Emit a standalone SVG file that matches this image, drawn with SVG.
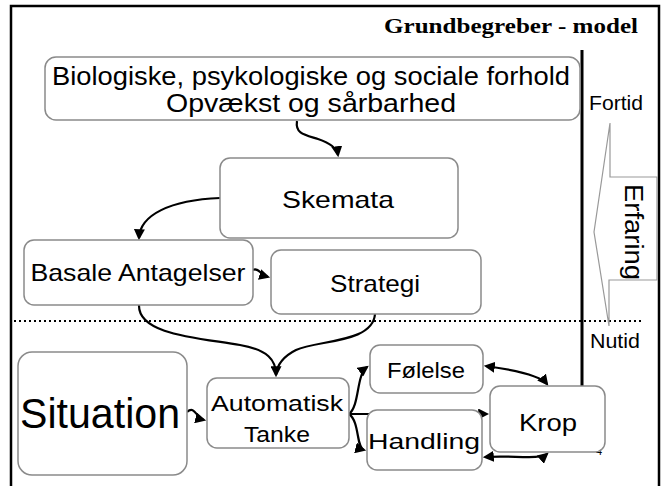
<svg xmlns="http://www.w3.org/2000/svg" width="664" height="486" viewBox="0 0 664 486">
<defs>
<style>
.box{fill:#fff;stroke:#8a8a8a;stroke-width:1.5}
.t{font-family:"Liberation Sans",Arial,sans-serif;fill:#000;text-anchor:middle}
.c{fill:none;stroke:#000;stroke-width:2.2}
</style>
<marker id="ah" viewBox="0 0 10 10" refX="8" refY="5" markerWidth="5" markerHeight="5" orient="auto-start-reverse" markerUnits="strokeWidth">
<path d="M0,0 L10,5 L0,10 Z" fill="#000"/>
</marker>
</defs>
<rect x="0" y="0" width="664" height="486" fill="#fff"/>
<path d="M11,486 V6 H659 V486" fill="none" stroke="#000" stroke-width="2.5"/>
<text x="638" y="33" font-family="'Liberation Serif',serif" font-weight="bold" font-size="22" text-anchor="end" textLength="254" lengthAdjust="spacingAndGlyphs">Grundbegreber - model</text>
<line x1="582" y1="50" x2="582" y2="386" stroke="#000" stroke-width="3"/>
<line x1="14" y1="321" x2="643" y2="321" stroke="#000" stroke-width="2" stroke-dasharray="2,3"/>
<path d="M610,123 L610,177 L657,177 L657,280 L609,280 L609,326 L594,232 Z" fill="#fff" stroke="#999" stroke-width="1.2"/>
<text class="t" font-size="25" transform="translate(625,232) rotate(90)" textLength="96" lengthAdjust="spacingAndGlyphs">Erfaring</text>
<text class="t" x="616" y="110" font-size="20" textLength="54" lengthAdjust="spacingAndGlyphs">Fortid</text>
<text class="t" x="615" y="348" font-size="20" textLength="50" lengthAdjust="spacingAndGlyphs">Nutid</text>
<text class="t" x="599" y="455" font-size="11">4</text>

<g id="connectors">
<path class="c" d="M297,121 C295,134 305,135 318,139 C330,143 337,148 338,155" marker-end="url(#ah)"/>
<path class="c" d="M220,198 C170,200 140,215 139,238" marker-end="url(#ah)"/>
<path class="c" d="M253,270 C258,267 261,275 268,277" marker-end="url(#ah)"/>
<path class="c" d="M139,305 C138,335 200,338 240,345 C268,350 276,360 276,375" marker-end="url(#ah)"/>
<path class="c" d="M375,314 C373,343 318,340 296,350 C282,357 277,365 276,375"/>
<path class="c" d="M187,412 C195,405 196,418 204,420" marker-end="url(#ah)"/>
<path class="c" d="M349,414 C360,405 356,375 367,367" marker-end="url(#ah)"/>
<path class="c" d="M349,414 L487,414" marker-end="url(#ah)"/>
<path class="c" d="M349,414 C360,422 356,448 364,450" marker-end="url(#ah)"/>
<path class="c" d="M486,366 C515,370 540,375 547,384" marker-start="url(#ah)" marker-end="url(#ah)"/>
<path class="c" d="M485,457 C510,455 540,460 547,454" marker-start="url(#ah)" marker-end="url(#ah)"/>
</g>

<g id="bio">
<rect class="box" x="45" y="57" width="535" height="63" rx="11"/>
<text class="t" x="311" y="85" font-size="25" textLength="518" lengthAdjust="spacingAndGlyphs">Biologiske, psykologiske og sociale forhold</text>
<text class="t" x="311" y="112" font-size="25" textLength="290" lengthAdjust="spacingAndGlyphs">Opvækst og sårbarhed</text>
</g>
<g id="skemata">
<rect class="box" x="220" y="158" width="238" height="80" rx="10"/>
<text class="t" x="338" y="208" font-size="24" textLength="112" lengthAdjust="spacingAndGlyphs">Skemata</text>
</g>
<g id="basale">
<rect class="box" x="24" y="240" width="229" height="65" rx="10"/>
<text class="t" x="138" y="281" font-size="24" textLength="215" lengthAdjust="spacingAndGlyphs">Basale Antagelser</text>
</g>
<g id="strategi">
<rect class="box" x="271" y="250" width="210" height="64" rx="10"/>
<text class="t" x="375" y="292" font-size="24" textLength="90" lengthAdjust="spacingAndGlyphs">Strategi</text>
</g>
<g id="situation">
<rect class="box" x="18" y="352" width="169" height="123" rx="14"/>
<text class="t" x="100" y="428" font-size="43" textLength="160" lengthAdjust="spacingAndGlyphs">Situation</text>
</g>
<g id="automatisk">
<rect class="box" x="207" y="378" width="142" height="70" rx="10"/>
<text class="t" x="277" y="411" font-size="22" textLength="132" lengthAdjust="spacingAndGlyphs">Automatisk</text>
<text class="t" x="277" y="442" font-size="22" textLength="66" lengthAdjust="spacingAndGlyphs">Tanke</text>
</g>
<g id="folelse">
<rect class="box" x="370" y="345" width="113" height="48" rx="10"/>
<text class="t" x="426" y="378" font-size="22" textLength="78" lengthAdjust="spacingAndGlyphs">Følelse</text>
</g>
<g id="handling">
<rect class="box" x="367" y="410" width="115" height="60" rx="10"/>
<text class="t" x="424" y="449" font-size="22" textLength="112" lengthAdjust="spacingAndGlyphs">Handling</text>
</g>
<g id="krop">
<rect class="box" x="490" y="386" width="115" height="66" rx="10"/>
<text class="t" x="548" y="431" font-size="24" textLength="58" lengthAdjust="spacingAndGlyphs">Krop</text>
</g>
</svg>
